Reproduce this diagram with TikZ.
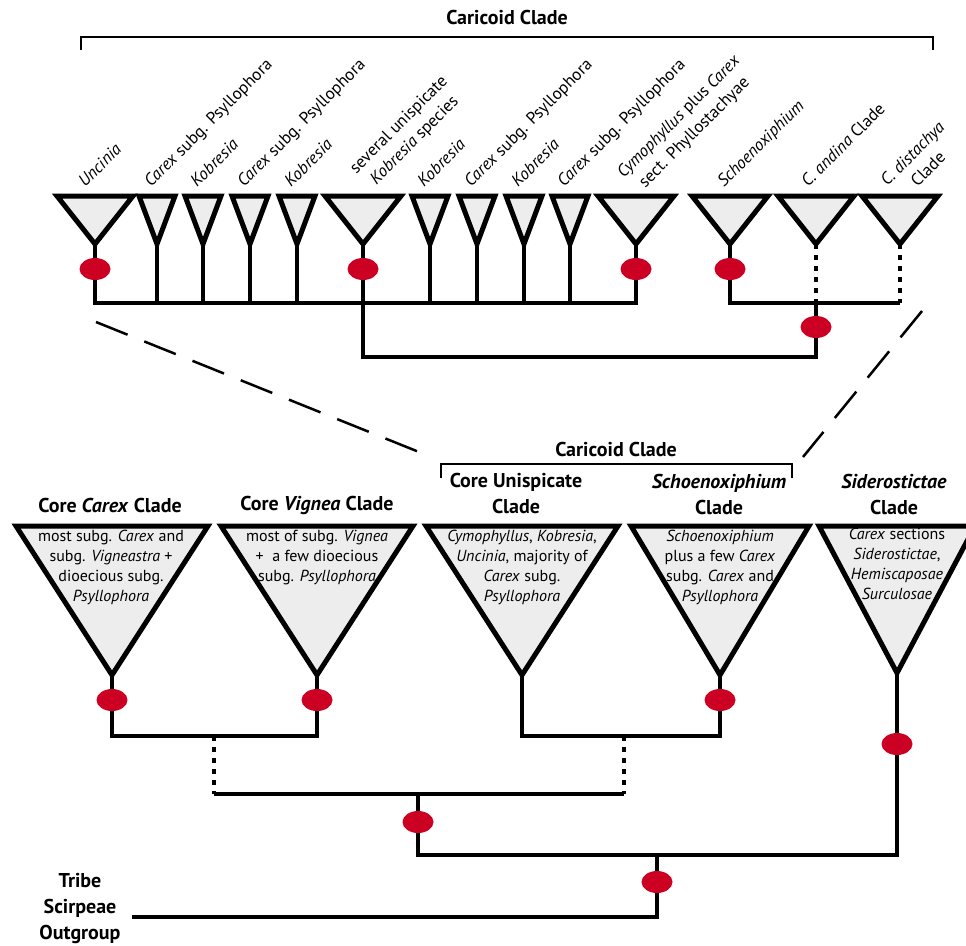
\documentclass[tikz,border=0pt]{standalone}
\usepackage{fontspec}
\setmainfont{PT Sans}
\usetikzlibrary{shapes.geometric}

\definecolor{cladegray}{RGB}{237,237,237}
\definecolor{supportred}{RGB}{204,0,34}

% triangle of a clade: name, x, half width, top y, tip y
\newcommand{\cladetri}[5]{%
    \draw[clade] (#2-#3,#4) -- (#2+#3,#4) -- (#2,#5) -- cycle;
    \coordinate (#1) at (#2,#5);
}

\begin{document}
\begin{tikzpicture}[x=1pt,y=-1pt,
            branch/.style={line width=4.5pt,line join=miter},
            dotbranch/.style={line width=4.5pt,dash pattern=on 5pt off 6pt},
            clade/.style={draw,fill=cladegray,line width=5pt,line join=miter},
            support/.style={ellipse,fill=supportred,minimum width=31pt,minimum height=22pt,inner sep=0pt},
            bracket/.style={line width=2.5pt},
            zoomline/.style={line width=2.5pt,dash pattern=on 34pt off 18pt},
            toplabel/.style={rotate=45,anchor=base west,inner sep=0pt,font=\fontsize{17}{22}\selectfont},
            toplabel2/.style={rotate=45,align=center,inner sep=0pt,font=\fontsize{17}{22}\selectfont},
            cladename/.style={align=center,inner sep=0pt,font=\fontsize{20}{26}\selectfont\bfseries},
            cladetext/.style={align=center,anchor=north,inner sep=0pt,font=\fontsize{16}{20}\selectfont}]

            \clip (0,0) rectangle (966,945);

            % upper tree
            \node[cladename] (caricoid) at (507,17) {Caricoid Clade};
            \draw[bracket] (81,50) -- (81,37) -- (933,37) -- (933,50);

            \coordinate (h1) at (0,303);
            \coordinate (h2) at (0,357);
            \coordinate (t1) at (95,244);
            \coordinate (t6) at (363,244);
            \coordinate (t11) at (636,244);
            \coordinate (t12) at (730,244);
            \coordinate (t13) at (816,244);
            \coordinate (t14) at (900,244);
            \draw[branch] (t1) -- (t1 |- h1) -- (t11 |- h1) -- (t11);
            \draw[branch] (t12) -- (t12 |- h1) -- (t14 |- h1);
            \draw[dotbranch] (t13) -- (t13 |- h1);
            \draw[dotbranch] (t14) -- (t14 |- h1);
            \draw[branch] (t6) -- (t6 |- h2) -- (t13 |- h2) -- (t13 |- h1);
            \foreach \x in {157,203,250,297,430,477,524,570}
                \draw[branch] (\x,244) -- (\x,303);

            \cladetri{t1}{95}{38}{196}{244}
            \foreach \x in {157,203,250,297}
                {\cladetri{s\x}{\x}{18}{196}{244}}
            \cladetri{t6}{363}{38}{196}{244}
            \foreach \x in {430,477,524,570}
                {\cladetri{s\x}{\x}{18}{196}{244}}
            \cladetri{t11}{636}{38}{196}{244}
            \cladetri{t12}{730}{38}{196}{244}
            \cladetri{t13}{816}{38}{196}{244}
            \cladetri{t14}{900}{38}{196}{244}

            \node[support] (u1) at (95,269) {};
            \node[support] (u6) at (363,269) {};
            \node[support] (u11) at (636,269) {};
            \node[support] (u12) at (730,269) {};
            \node[support] (u13) at (816,327) {};

            \node[toplabel] (lab1) at (85,188) {\textit{Uncinia}};
            \node[toplabel] (lab2) at (151,188) {\textit{Carex} subg. Psyllophora};
            \node[toplabel] (lab3) at (197,188) {\textit{Kobresia}};
            \node[toplabel] (lab4) at (244,188) {\textit{Carex} subg. Psyllophora};
            \node[toplabel] (lab5) at (291,188) {\textit{Kobresia}};
            \node[toplabel2] (lab6) at (407,133) {several unispicate\\\textit{Kobresia} species};
            \node[toplabel] (lab7) at (424,188) {\textit{Kobresia}};
            \node[toplabel] (lab8) at (471,188) {\textit{Carex} subg. Psyllophora};
            \node[toplabel] (lab9) at (518,188) {\textit{Kobresia}};
            \node[toplabel] (lab10) at (564,188) {\textit{Carex} subg. Psyllophora};
            \node[toplabel2] (lab11) at (687,125) {\textit{Cymophyllus} plus \textit{Carex}\\sect. Phyllostachyae};
            \node[toplabel] (lab12) at (724,188) {\textit{Schoenoxiphium}};
            \node[toplabel] (lab13) at (808,188) {\textit{C. andina} Clade};
            \node[toplabel2] (lab14) at (920,161) {\textit{C. distachya}\\Clade};

            % zoom lines
            \coordinate (zl1) at (96,322);
            \coordinate (zl2) at (419,452);
            \coordinate (zr1) at (922,311);
            \coordinate (zr2) at (803,457);
            \draw[zoomline] (zl1) -- (zl2);
            \draw[zoomline] (zr1) -- (zr2);

            % lower tree
            \node[cladename] (caricoid2) at (616,449) {Caricoid Clade};
            \draw[bracket] (441,478) -- (441,464) -- (792,464) -- (792,478);

            \node[cladename] (carex) at (110,505) {Core \textit{Carex} Clade};
            \node[cladename] (vignea) at (317,505) {Core \textit{Vignea} Clade};
            \node[cladename] (unisp) at (516,493) {Core Unispicate\\Clade};
            \node[cladename] (schoen) at (719,494) {\textit{Schoenoxiphium}\\Clade};
            \node[cladename] (sider) at (894,494) {\textit{Siderostictae}\\Clade};

            \coordinate (b1) at (112,675);
            \coordinate (b2) at (317,675);
            \coordinate (b3) at (522,675);
            \coordinate (b4) at (720,675);
            \coordinate (b5) at (897,673);
            \coordinate (j1) at (214,736);
            \coordinate (j2) at (624,736);
            \coordinate (j3) at (418,794);
            \coordinate (j4) at (657,855);
            \coordinate (ogend) at (132,917);

            \draw[branch] (b1) |- (j1) -| (b2);
            \draw[branch] (b3) |- (j2) -| (b4);
            \draw[dotbranch] (j1) -- (j1 |- j3);
            \draw[dotbranch] (j2) -- (j2 |- j3);
            \draw[branch] (j1 |- j3) -- (j2 |- j3);
            \draw[branch] (j3) |- (j4) -| (b5);
            \draw[branch] (j4) |- (ogend);

            \cladetri{b1}{112}{96}{526}{675}
            \cladetri{b2}{317}{96}{526}{675}
            \cladetri{b3}{522}{96}{526}{675}
            \cladetri{b4}{720}{89}{526}{675}
            \cladetri{b5}{897}{78}{526}{673}

            \node[cladetext] (txt1) at (111,530) {most subg. \textit{Carex} and\\subg. \textit{Vigneastra} +\\dioecious subg.\\\textit{Psyllophora}};
            \node[cladetext] (txt2) at (317,530) {most of subg. \textit{Vignea}\\+\ \ a few dioecious\\subg. \textit{Psyllophora}};
            \node[cladetext] (txt3) at (522,530) {\textit{Cymophyllus}, \textit{Kobresia},\\\textit{Uncinia}, majority of\\\textit{Carex} subg.\\\textit{Psyllophora}};
            \node[cladetext] (txt4) at (720,530) {\textit{Schoenoxiphium}\\plus a few \textit{Carex}\\subg. \textit{Carex} and\\\textit{Psyllophora}};
            \node[cladetext] (txt5) at (897,528) {\textit{Carex} sections\\\textit{Siderostictae},\\\textit{Hemiscaposae}\\\textit{Surculosae}};

            \node[support] (v1) at (112,700) {};
            \node[support] (v2) at (317,700) {};
            \node[support] (v4) at (720,700) {};
            \node[support] (v5) at (897,744) {};
            \node[support] (v6) at (418,822) {};
            \node[support] (v7) at (657,882) {};

            \node[cladename] (outgroup) at (80,908) {Tribe\\Scirpeae\\Outgroup};
        \end{tikzpicture}
\end{document}
